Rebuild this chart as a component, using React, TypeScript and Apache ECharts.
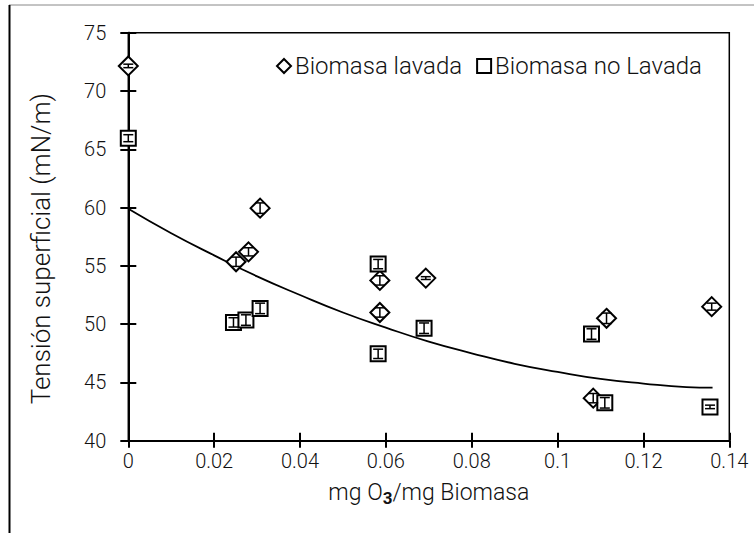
import React, { useEffect, useRef } from "react";
import * as echarts from "echarts";

// Biomasa lavada (diamonds)
const lavadaX = [0, 0.0251, 0.028, 0.0307, 0.0586, 0.0586, 0.0693, 0.1083, 0.1114, 0.1359];
const lavadaY = [72.15, 55.35, 56.2, 59.95, 53.75, 51.0, 53.95, 43.65, 50.5, 51.5];
const lavadaErr = [0.15, 0.4, 0.35, 0.45, 0.4, 0.4, 0.12, 0.4, 0.45, 0.3];

// Biomasa no Lavada (squares)
const noLavadaX = [0, 0.0245, 0.0274, 0.0307, 0.0582, 0.0582, 0.0689, 0.1079, 0.111, 0.1355];
const noLavadaY = [65.95, 50.15, 50.35, 51.35, 55.15, 47.45, 49.65, 49.15, 43.25, 42.9];
const noLavadaErr = [0.3, 0.4, 0.45, 0.45, 0.4, 0.4, 0.45, 0.45, 0.45, 0.15];

// Trend curve read along its length
const trendX = [0, 0.01, 0.02, 0.03, 0.04, 0.05, 0.06, 0.07, 0.08, 0.09, 0.1, 0.11, 0.12, 0.13, 0.1361];
const trendY = [59.9, 57.8, 55.9, 54.1, 52.5, 51.0, 49.7, 48.5, 47.5, 46.6, 45.9, 45.3, 44.9, 44.6, 44.55];

const FONT = "Roboto, 'Liberation Sans', Arial, sans-serif";
const WEIGHT = 300;
const TEXT = "#111";

const zip = (xs: number[], ys: number[], es?: number[]) =>
  xs.map((x, i) => (es ? [x, ys[i], es[i]] : [x, ys[i]]));

const errorBars = (params: any, api: any) => {
  const x = api.value(0);
  const y = api.value(1);
  const e = api.value(2);
  const top = api.coord([x, y + e]);
  const bot = api.coord([x, y - e]);
  const hw = 5;
  const style = { stroke: "#000", lineWidth: 1.5 };
  return {
    type: "group",
    children: [
      { type: "line", shape: { x1: top[0], y1: top[1], x2: bot[0], y2: bot[1] }, style },
      { type: "line", shape: { x1: top[0] - hw, y1: top[1], x2: top[0] + hw, y2: top[1] }, style },
      { type: "line", shape: { x1: bot[0] - hw, y1: bot[1], x2: bot[0] + hw, y2: bot[1] }, style },
    ],
  };
};

const tickFmt = (v: number) => String(+v.toFixed(2));

export default function App() {
  const ref = useRef<HTMLDivElement>(null);

  useEffect(() => {
    if (!ref.current) return;
    const chart = echarts.init(ref.current, undefined, { renderer: "svg" });

    const yBase = {
      type: "value",
      min: 40,
      max: 75,
      interval: 5,
      position: "left",
      splitLine: { show: false },
      axisLine: { show: true, lineStyle: { color: "#000", width: 2 } },
    };
    const xBase = {
      type: "value",
      min: 0,
      max: 0.14,
      interval: 0.02,
      position: "bottom",
      splitLine: { show: false },
      axisLine: { show: true, onZero: false, lineStyle: { color: "#000", width: 2 } },
    };
    const label = { fontFamily: FONT, fontWeight: WEIGHT, color: TEXT };

    chart.setOption({
      animation: false,
      backgroundColor: "#fff",
      textStyle: { fontFamily: FONT },
      graphic: [
        { type: "line", shape: { x1: 9, y1: 5, x2: 754, y2: 5 }, style: { stroke: "#888", lineWidth: 1 } },
        { type: "line", shape: { x1: 9.5, y1: 5, x2: 9.5, y2: 533 }, style: { stroke: "#000", lineWidth: 2 } },
      ],
      grid: {
        left: 128.3,
        top: 32.7,
        right: 24.7,
        bottom: 92.3,
        show: true,
        borderColor: "#000",
        borderWidth: 1.5,
        backgroundColor: "transparent",
      },
      legend: {
        data: ["Biomasa lavada", "Biomasa no Lavada"],
        left: 271,
        top: 49,
        itemWidth: 14,
        itemHeight: 14,
        itemGap: 14,
        textStyle: { ...label, fontSize: 24, padding: [0, 0, 0, -1] },
      },
      xAxis: [
        {
          ...xBase,
          axisTick: { show: true, inside: false, length: 7, lineStyle: { color: "#000", width: 2 } },
          axisLabel: { ...label, margin: 10, fontSize: 20, formatter: tickFmt },
          name: "{a|mg O}{b|3}{a|/mg Biomasa}",
          nameLocation: "middle",
          nameGap: 38,
          nameTextStyle: {
            rich: {
              a: { ...label, fontSize: 23, lineHeight: 28 },
              b: { fontFamily: FONT, fontSize: 17, fontWeight: "bold", color: TEXT, lineHeight: 12, verticalAlign: "bottom" },
            },
          },
        },
        {
          ...xBase,
          axisTick: { show: true, inside: true, length: 8, lineStyle: { color: "#000", width: 2 } },
          axisLabel: { show: false },
        },
      ],
      yAxis: [
        {
          ...yBase,
          axisTick: { show: true, inside: false, length: 8, lineStyle: { color: "#000", width: 2 } },
          axisLabel: { ...label, margin: 22, fontSize: 20 },
          name: "Tensión superficial (mN/m)",
          nameLocation: "middle",
          nameRotate: 90,
          nameGap: 74,
          nameTextStyle: { ...label, fontSize: 26, padding: [0, 24, 0, 0] },
        },
        {
          ...yBase,
          axisTick: { show: true, inside: true, length: 8, lineStyle: { color: "#000", width: 2 } },
          axisLabel: { show: false },
        },
      ],
      series: [
        {
          name: "Tendencia",
          type: "line",
          data: zip(trendX, trendY),
          smooth: true,
          showSymbol: false,
          symbol: "none",
          lineStyle: { color: "#000", width: 1.8 },
          z: 2,
        },
        {
          name: "Biomasa lavada",
          type: "scatter",
          data: zip(lavadaX, lavadaY),
          symbol: "diamond",
          symbolSize: 19,
          itemStyle: { color: "#fff", borderColor: "#000", borderWidth: 2, opacity: 1 },
          z: 3,
        },
        {
          name: "Biomasa no Lavada",
          type: "scatter",
          data: zip(noLavadaX, noLavadaY),
          symbol: "rect",
          symbolSize: 15,
          itemStyle: { color: "#fff", borderColor: "#000", borderWidth: 2, opacity: 1 },
          z: 3,
        },
        {
          name: "err-lavada",
          type: "custom",
          data: zip(lavadaX, lavadaY, lavadaErr),
          renderItem: errorBars,
          encode: { x: 0, y: 1 },
          z: 4,
        },
        {
          name: "err-nolavada",
          type: "custom",
          data: zip(noLavadaX, noLavadaY, noLavadaErr),
          renderItem: errorBars,
          encode: { x: 0, y: 1 },
          z: 4,
        },
      ],
    });

    return () => chart.dispose();
  }, []);

  return (
    <div
      ref={ref}
      style={{ position: "absolute", left: 0, top: 0, width: 754, height: 533 }}
    />
  );
}
